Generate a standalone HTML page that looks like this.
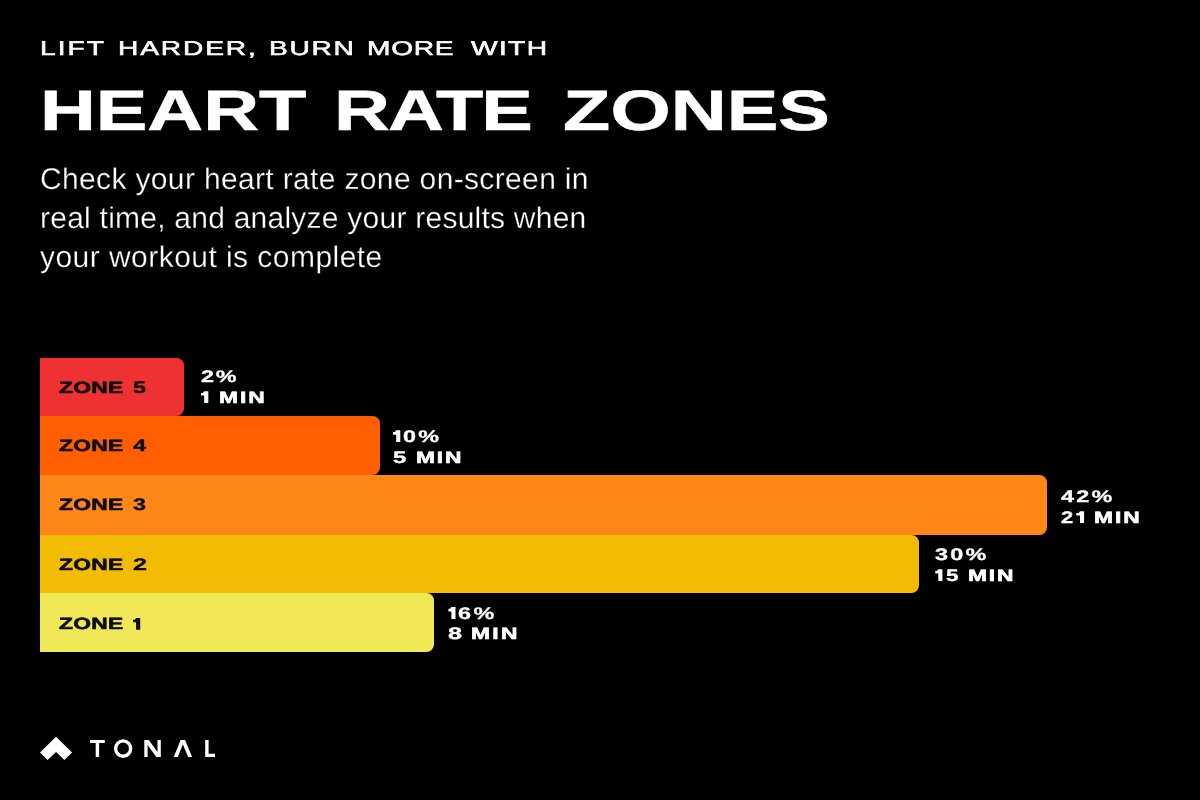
<!DOCTYPE html>
<html><head><meta charset="utf-8"><title>Heart Rate Zones</title>
<style>
html,body{margin:0;padding:0;background:#000;}
body{width:1200px;height:800px;position:relative;overflow:hidden;font-family:"Liberation Sans",sans-serif;}
.t{position:absolute;white-space:pre;line-height:1;transform-origin:0 0;will-change:transform;text-rendering:geometricPrecision;}
.bar{position:absolute;border-radius:0 7.5px 7.5px 0;}
#s0{left:40.41px;top:40.09px;font-size:19.84px;font-weight:400;letter-spacing:1.400px;transform:scaleX(1.42);color:#ffffff;-webkit-text-stroke:0.55px #fff;}
#s1{left:118.34px;top:40.09px;font-size:19.84px;font-weight:400;letter-spacing:1.297px;transform:scaleX(1.42);color:#ffffff;-webkit-text-stroke:0.55px #fff;}
#s2{left:268.55px;top:40.09px;font-size:19.84px;font-weight:400;letter-spacing:1.213px;transform:scaleX(1.42);color:#ffffff;-webkit-text-stroke:0.55px #fff;}
#s3{left:366.96px;top:40.09px;font-size:19.84px;font-weight:400;letter-spacing:0.500px;transform:scaleX(1.42);color:#ffffff;-webkit-text-stroke:0.55px #fff;}
#s4{left:471.47px;top:40.09px;font-size:19.84px;font-weight:400;letter-spacing:0.946px;transform:scaleX(1.42);color:#ffffff;-webkit-text-stroke:0.55px #fff;}
#t1{left:39.92px;top:83.58px;font-size:56.83px;font-weight:700;letter-spacing:-0.007px;transform:scaleX(1.36);color:#ffffff;-webkit-text-stroke:0.6px #fff;}
#t2{left:334.32px;top:83.58px;font-size:56.83px;font-weight:700;letter-spacing:-1.415px;transform:scaleX(1.36);color:#ffffff;-webkit-text-stroke:0.6px #fff;}
#t3{left:562.84px;top:83.58px;font-size:56.83px;font-weight:700;letter-spacing:0.123px;transform:scaleX(1.36);color:#ffffff;-webkit-text-stroke:0.6px #fff;}
#p1{left:39.75px;top:165.06px;font-size:30.0px;font-weight:400;letter-spacing:0.349px;transform:scaleX(1.0);color:#ffffff;-webkit-text-stroke:0.3px #000;}
#p2{left:39.81px;top:203.66px;font-size:30.0px;font-weight:400;letter-spacing:0.240px;transform:scaleX(1.0);color:#ffffff;-webkit-text-stroke:0.3px #000;}
#p3{left:40.31px;top:242.66px;font-size:30.0px;font-weight:400;letter-spacing:0.455px;transform:scaleX(1.0);color:#ffffff;-webkit-text-stroke:0.3px #000;}
#z5{left:58.74px;top:380.02px;font-size:16.28px;font-weight:700;letter-spacing:0.247px;transform:scaleX(1.4);color:#0b0b12;-webkit-text-stroke:0.6px #0b0b12;}
#z5d{left:133.00px;top:379.65px;font-size:16.72px;font-weight:700;letter-spacing:0.000px;transform:scaleX(1.4);color:#0b0b12;-webkit-text-stroke:0.3px #0b0b12;}
#z4{left:58.74px;top:437.87px;font-size:16.28px;font-weight:700;letter-spacing:0.247px;transform:scaleX(1.4);color:#0b0b12;-webkit-text-stroke:0.6px #0b0b12;}
#z4d{left:133.32px;top:437.50px;font-size:16.72px;font-weight:700;letter-spacing:0.000px;transform:scaleX(1.4225);color:#0b0b12;-webkit-text-stroke:0.3px #0b0b12;}
#z3{left:58.74px;top:497.02px;font-size:16.28px;font-weight:700;letter-spacing:0.247px;transform:scaleX(1.4);color:#0b0b12;-webkit-text-stroke:0.6px #0b0b12;}
#z3d{left:133.07px;top:496.65px;font-size:16.72px;font-weight:700;letter-spacing:0.000px;transform:scaleX(1.4011);color:#0b0b12;-webkit-text-stroke:0.3px #0b0b12;}
#z2{left:58.74px;top:556.72px;font-size:16.28px;font-weight:700;letter-spacing:0.247px;transform:scaleX(1.4);color:#0b0b12;-webkit-text-stroke:0.6px #0b0b12;}
#z2d{left:132.79px;top:556.72px;font-size:16.72px;font-weight:700;letter-spacing:0.000px;transform:scaleX(1.5127);color:#0b0b12;-webkit-text-stroke:0.3px #0b0b12;}
#z1{left:58.74px;top:615.97px;font-size:16.28px;font-weight:700;letter-spacing:0.247px;transform:scaleX(1.4);color:#0b0b12;-webkit-text-stroke:0.6px #0b0b12;}
#v5a{left:201.02px;top:368.53px;font-size:16.72px;font-weight:700;letter-spacing:1.183px;transform:scaleX(1.4);color:#ffffff;-webkit-text-stroke:0.3px #fff;}
#v5m{left:219.07px;top:389.91px;font-size:16.28px;font-weight:700;letter-spacing:1.372px;transform:scaleX(1.4);color:#ffffff;-webkit-text-stroke:0.6px #fff;}
#v4a{left:403.36px;top:428.73px;font-size:16.72px;font-weight:700;letter-spacing:1.532px;transform:scaleX(1.4);color:#ffffff;-webkit-text-stroke:0.3px #fff;}
#v4n{left:393.46px;top:449.53px;font-size:16.72px;font-weight:700;letter-spacing:0.000px;transform:scaleX(1.4297);color:#ffffff;-webkit-text-stroke:0.3px #fff;}
#v4m{left:415.55px;top:449.91px;font-size:16.28px;font-weight:700;letter-spacing:1.357px;transform:scaleX(1.4);color:#ffffff;-webkit-text-stroke:0.6px #fff;}
#v3a{left:1061.44px;top:488.53px;font-size:16.72px;font-weight:700;letter-spacing:1.574px;transform:scaleX(1.4);color:#ffffff;-webkit-text-stroke:0.3px #fff;}
#v3n{left:1060.79px;top:509.53px;font-size:16.72px;font-weight:700;letter-spacing:0.000px;transform:scaleX(1.317);color:#ffffff;-webkit-text-stroke:0.3px #fff;}
#v3m{left:1094.49px;top:509.91px;font-size:16.28px;font-weight:700;letter-spacing:1.375px;transform:scaleX(1.4);color:#ffffff;-webkit-text-stroke:0.6px #fff;}
#v2a{left:935.17px;top:546.93px;font-size:16.72px;font-weight:700;letter-spacing:1.600px;transform:scaleX(1.4);color:#ffffff;-webkit-text-stroke:0.3px #fff;}
#v2n{left:945.71px;top:567.53px;font-size:16.72px;font-weight:700;letter-spacing:0.000px;transform:scaleX(1.3403);color:#ffffff;-webkit-text-stroke:0.3px #fff;}
#v2m{left:967.88px;top:567.91px;font-size:16.28px;font-weight:700;letter-spacing:1.312px;transform:scaleX(1.4);color:#ffffff;-webkit-text-stroke:0.6px #fff;}
#v1a{left:457.57px;top:605.92px;font-size:16.72px;font-weight:700;letter-spacing:1.764px;transform:scaleX(1.4);color:#ffffff;-webkit-text-stroke:0.3px #fff;}
#v1n{left:448.36px;top:625.65px;font-size:16.72px;font-weight:700;letter-spacing:0.000px;transform:scaleX(1.5181);color:#ffffff;-webkit-text-stroke:0.3px #fff;}
#v1m{left:470.94px;top:626.02px;font-size:16.28px;font-weight:700;letter-spacing:1.656px;transform:scaleX(1.4);color:#ffffff;-webkit-text-stroke:0.6px #fff;}
</style></head><body>
<div class="bar" style="left:40px;top:358px;width:144px;height:58px;background:#ee3131"></div>
<div class="bar" style="left:40px;top:416px;width:340px;height:59px;background:#ff5f00"></div>
<div class="bar" style="left:40px;top:475px;width:1007px;height:60px;background:#ff8718"></div>
<div class="bar" style="left:40px;top:535px;width:879px;height:58px;background:#f2bc05"></div>
<div class="bar" style="left:40px;top:593px;width:394px;height:59px;background:#f0e857"></div>
<div class="t" id="s0">LIFT</div>
<div class="t" id="s1">HARDER,</div>
<div class="t" id="s2">BURN</div>
<div class="t" id="s3">MORE</div>
<div class="t" id="s4">WITH</div>
<div class="t" id="t1">HEART</div>
<div class="t" id="t2">RATE</div>
<div class="t" id="t3">ZONES</div>
<div class="t" id="p1">Check your heart rate zone on-screen in</div>
<div class="t" id="p2">real time, and analyze your results when</div>
<div class="t" id="p3">your workout is complete</div>
<div class="t" id="z5">ZONE</div>
<div class="t" id="z5d">5</div>
<div class="t" id="z4">ZONE</div>
<div class="t" id="z4d">4</div>
<div class="t" id="z3">ZONE</div>
<div class="t" id="z3d">3</div>
<div class="t" id="z2">ZONE</div>
<div class="t" id="z2d">2</div>
<div class="t" id="z1">ZONE</div>
<div class="t" id="v5a">2%</div>
<div class="t" id="v5m">MIN</div>
<div class="t" id="v4a">0%</div>
<div class="t" id="v4n">5</div>
<div class="t" id="v4m">MIN</div>
<div class="t" id="v3a">42%</div>
<div class="t" id="v3n">2</div>
<div class="t" id="v3m">MIN</div>
<div class="t" id="v2a">30%</div>
<div class="t" id="v2n">5</div>
<div class="t" id="v2m">MIN</div>
<div class="t" id="v1a">6%</div>
<div class="t" id="v1n">8</div>
<div class="t" id="v1m">MIN</div>
<svg style="position:absolute;left:0;top:720px" width="260" height="60" viewBox="0 720 260 60">
<g fill="#fff">
<path d="M56.05 736.75 L72.05 752.45 L64.4 760.1 L56.05 752.05 L47.55 760.1 L40 752.45 Z"/>
<path d="M89.9 739.9 H104.8 V743.05 H99.1 V757 H95.7 V743.05 H89.9 Z"/>
<path d="M144.3 739.9 H148.8 L157.5 751.9 V739.9 H160.8 V757 H156.3 L147.6 745 V757 H144.3 Z"/>
<path d="M173.8 757 L180.6 739.9 H185.1 L192.1 757 H188.1 L182.87 744.2 L177.8 757 Z"/>
<path d="M205.2 739.9 H208.6 V753.75 H215 V757 H205.2 Z"/>
</g>
<ellipse cx="123.15" cy="748.55" rx="7.5" ry="7.7" fill="none" stroke="#fff" stroke-width="3.4"/>
</svg>
<svg style="position:absolute;left:0;top:0" width="1200" height="700" viewBox="0 0 1200 700"><path fill="#0b0b12" d="M136.10 617.95H140.20V629.75H136.10V622.35H133.10V619.65H134.80Z"/><path fill="#ffffff" d="M204.20 391.20H208.30V403.00H204.20V395.60H201.00V392.90H202.90Z"/><path fill="#ffffff" d="M396.20 430.30H400.30V442.10H396.20V434.70H393.00V432.00H394.90Z"/><path fill="#ffffff" d="M1080.00 511.20H1084.10V523.00H1080.00V515.60H1076.25V512.90H1078.70Z"/><path fill="#ffffff" d="M938.30 569.20H942.40V581.00H938.30V573.60H935.25V570.90H937.00Z"/><path fill="#ffffff" d="M451.40 607.10H455.50V618.90H451.40V611.50H448.40V608.80H450.10Z"/></svg>
</body></html>
